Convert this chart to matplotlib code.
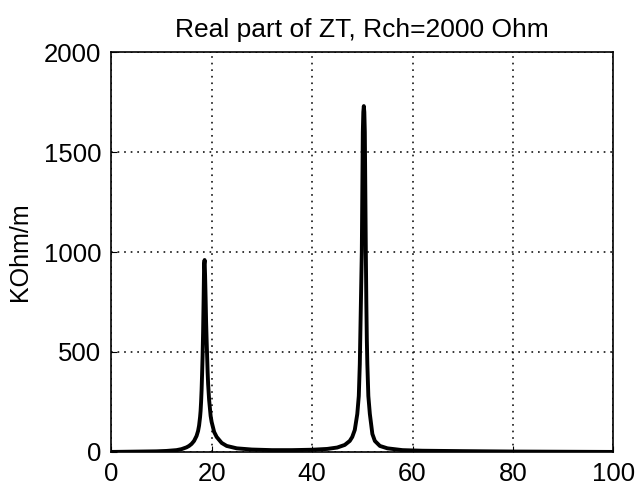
import numpy as np
import matplotlib
matplotlib.use("Agg")
import matplotlib.pyplot as plt

plt.rcParams["font.family"] = ["Liberation Sans", "DejaVu Sans"]

# frequency points and real part of ZT (KOhm/m)
freq = [0, 3, 6, 9, 11, 13, 14, 15, 15.5, 16, 16.5, 17, 17.3, 17.5, 17.7,
        17.8, 17.9, 18.0, 18.1, 18.2, 18.3, 18.4, 18.5, 18.6, 18.7, 18.8,
        18.9, 19.0, 19.2, 19.3, 19.5, 19.8, 20, 20.5, 21, 22, 23, 25, 28,
        32, 36, 40, 43, 45, 46.5, 47.5, 48, 48.5, 49, 49.3, 49.5, 49.7,
        49.9, 50.0, 50.1, 50.2, 50.3, 50.4, 50.45, 50.5, 50.55, 50.6, 50.7,
        50.8, 50.9, 51.0, 51.2, 51.5, 52, 52.5, 53.5, 55, 58, 62, 70, 80,
        90, 100]
re_zt = [0, 1, 2, 3, 5, 9, 14, 23, 30, 40, 55, 80, 105, 132, 175,
         205, 250, 310, 390, 480, 600, 760, 940, 960, 880, 770,
         650, 560, 400, 340, 260, 180, 150, 100, 75, 45, 30, 18, 12,
         9, 9, 11, 15, 22, 35, 55, 75, 110, 190, 280, 440, 720,
         1000, 1300, 1600, 1700, 1730, 1700, 1650, 1600, 1450, 1300, 1000,
         750, 560, 440, 280, 190, 90, 55, 30, 18, 9, 6, 4, 2,
         1, 0]

fig = plt.figure(figsize=(6.39, 4.87), dpi=100)
ax = fig.add_axes([0.174, 0.072, 0.786, 0.821])

ax.plot(freq, re_zt, color="black", linewidth=2.8)

ax.set_xlim(0, 100)
ax.set_ylim(0, 2000)
ax.set_xticks([0, 20, 40, 60, 80, 100])
ax.set_yticks([0, 500, 1000, 1500, 2000])
ax.grid(True, linestyle=(0, (1.1, 3.2)), color="black", linewidth=1.1)
ax.tick_params(labelsize=18.5, direction="in", length=4, pad=7)
for s in ax.spines.values():
    s.set_linewidth(1.2)

ax.set_title("Real part of ZT, Rch=2000 Ohm", fontsize=19, pad=11)
ax.set_ylabel("KOhm/m", fontsize=18)
ax.yaxis.set_label_coords(-0.157, 0.5)

fig.savefig("out.png", dpi=100)
